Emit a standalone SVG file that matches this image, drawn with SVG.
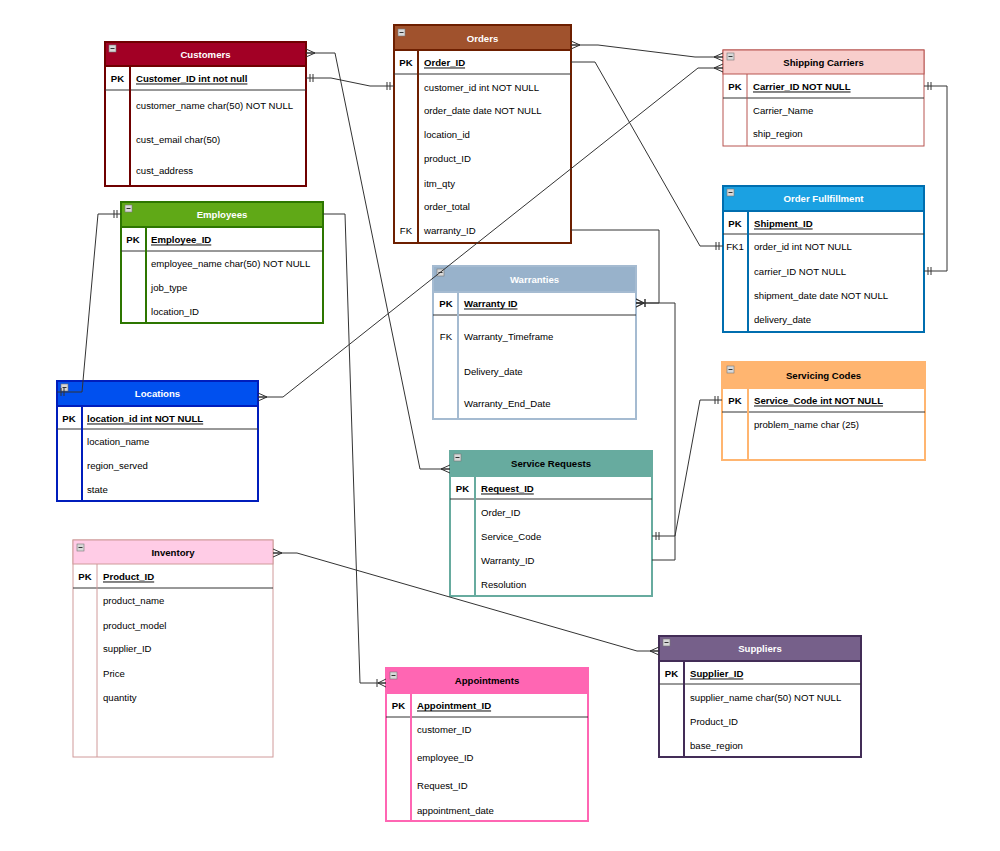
<svg xmlns="http://www.w3.org/2000/svg" width="1000" height="851" viewBox="0 0 1000 851">
<style>
text{font-family:"Liberation Sans",Arial,sans-serif;font-size:9.6px;dominant-baseline:central;fill:#000}
.h{font-weight:bold;text-anchor:middle}
.w{fill:#fff}
.pk{font-weight:bold;text-anchor:middle}
.k{font-weight:bold;text-decoration:underline}
.fk{text-anchor:middle}
.sep{stroke:#333;stroke-width:1}
.c{fill:none;stroke:#333;stroke-width:1}
.ic{fill:#d8d8d8;stroke:#777;stroke-width:0.6}
.icl{stroke:#333;stroke-width:1}
</style>
<defs>
<marker id="many" markerUnits="userSpaceOnUse" viewBox="-12 -6 14 12" refX="0" refY="0" markerWidth="14" markerHeight="12" orient="auto-start-reverse" overflow="visible">
<path d="M0,-4 L-9,0 L0,4 M-9,0 L0,0" fill="none" stroke="#333" stroke-width="1"/>
</marker>
<marker id="one" markerUnits="userSpaceOnUse" viewBox="-12 -6 14 12" refX="0" refY="0" markerWidth="14" markerHeight="12" orient="auto-start-reverse" overflow="visible">
<path d="M-4,-4 L-4,4 M-7,-4 L-7,4" fill="none" stroke="#333" stroke-width="1"/>
</marker>
<marker id="otm" markerUnits="userSpaceOnUse" viewBox="-12 -6 14 12" refX="0" refY="0" markerWidth="14" markerHeight="12" orient="auto-start-reverse" overflow="visible">
<path d="M0,-4 L-8,0 L0,4 M-8,0 L0,0 M-9,-4 L-9,4" fill="none" stroke="#333" stroke-width="1"/>
</marker>
</defs>
<rect width="1000" height="851" fill="#fff"/>

<g id="customers">
<rect x="105" y="42" width="201" height="144" fill="#fff" stroke="#6f0000" stroke-width="2"/>
<rect x="105" y="42" width="201" height="24" fill="#a20025" stroke="#6f0000" stroke-width="2"/>
<line class="sep" x1="105" y1="90" x2="306" y2="90"/>
<line x1="130" y1="66" x2="130" y2="186" stroke="#6f0000" stroke-width="2"/>
<rect class="ic" x="109" y="45" width="7" height="7"/><line class="icl" x1="110.5" y1="48.5" x2="114.5" y2="48.5"/>
<text class="h w" x="205.5" y="54">Customers</text>
<text class="pk" x="117.5" y="78">PK</text>
<text class="k" x="136" y="78">Customer_ID int not null</text>
<text x="136" y="105">customer_name char(50) NOT NULL</text>
<text x="136" y="139">cust_email char(50)</text>
<text x="136" y="170">cust_address</text>
</g>

<g id="orders">
<rect x="394" y="25" width="177" height="218" fill="#fff" stroke="#6d1f00" stroke-width="2"/>
<rect x="394" y="25" width="177" height="25" fill="#a0522d" stroke="#6d1f00" stroke-width="2"/>
<line class="sep" x1="394" y1="74" x2="571" y2="74"/>
<line x1="418" y1="50" x2="418" y2="243" stroke="#6d1f00" stroke-width="2"/>
<rect class="ic" x="398" y="29" width="7" height="7"/><line class="icl" x1="399.5" y1="32.5" x2="403.5" y2="32.5"/>
<text class="h w" x="482.5" y="38">Orders</text>
<text class="pk" x="406" y="62">PK</text>
<text class="k" x="424" y="62">Order_ID</text>
<text x="424" y="87">customer_id int NOT NULL</text>
<text x="424" y="110">order_date date NOT NULL</text>
<text x="424" y="134">location_id</text>
<text x="424" y="158">product_ID</text>
<text x="424" y="183">itm_qty</text>
<text x="424" y="206">order_total</text>
<text class="fk" x="406" y="230">FK</text>
<text x="424" y="230">warranty_ID</text>
</g>

<g id="shipping-carriers">
<rect x="723" y="50" width="201" height="96" fill="#fff" stroke="#b85450" stroke-width="1"/>
<rect x="723" y="50" width="201" height="24" fill="#f8cecc" stroke="#b85450" stroke-width="1"/>
<line class="sep" x1="723" y1="98" x2="924" y2="98"/>
<line x1="747" y1="74" x2="747" y2="146" stroke="#b85450" stroke-width="1"/>
<rect class="ic" x="727" y="53" width="7" height="7"/><line class="icl" x1="728.5" y1="56.5" x2="732.5" y2="56.5"/>
<text class="h" x="823.5" y="62">Shipping Carriers</text>
<text class="pk" x="735" y="86">PK</text>
<text class="k" x="753" y="86">Carrier_ID NOT NULL</text>
<text x="753" y="110">Carrier_Name</text>
<text x="753" y="133">ship_region</text>
</g>

<g id="order-fulfillment">
<rect x="723" y="186" width="201" height="146" fill="#fff" stroke="#006eaf" stroke-width="2"/>
<rect x="723" y="186" width="201" height="25" fill="#1ba1e2" stroke="#006eaf" stroke-width="2"/>
<line class="sep" x1="723" y1="234" x2="924" y2="234"/>
<line x1="748" y1="211" x2="748" y2="332" stroke="#006eaf" stroke-width="2"/>
<rect class="ic" x="727" y="189" width="7" height="7"/><line class="icl" x1="728.5" y1="192.5" x2="732.5" y2="192.5"/>
<text class="h w" x="823.5" y="198">Order Fullfillment</text>
<text class="pk" x="735" y="223">PK</text>
<text class="k" x="754" y="223">Shipment_ID</text>
<text class="fk" x="735" y="246">FK1</text>
<text x="754" y="246">order_id int NOT NULL</text>
<text x="754" y="271">carrier_ID NOT NULL</text>
<text x="754" y="295">shipment_date date NOT NULL</text>
<text x="754" y="319">delivery_date</text>
</g>

<g id="employees">
<rect x="121" y="202" width="202" height="121" fill="#fff" stroke="#2d7600" stroke-width="2"/>
<rect x="121" y="202" width="202" height="25" fill="#60a917" stroke="#2d7600" stroke-width="2"/>
<line class="sep" x1="121" y1="251" x2="323" y2="251"/>
<line x1="146" y1="227" x2="146" y2="323" stroke="#2d7600" stroke-width="2"/>
<rect class="ic" x="125" y="205" width="7" height="7"/><line class="icl" x1="126.5" y1="208.5" x2="130.5" y2="208.5"/>
<text class="h w" x="222" y="214">Employees</text>
<text class="pk" x="133" y="239">PK</text>
<text class="k" x="151" y="239">Employee_ID</text>
<text x="151" y="263">employee_name char(50) NOT NULL</text>
<text x="151" y="287">job_type</text>
<text x="151" y="311">location_ID</text>
</g>

<g id="locations">
<rect x="57" y="381" width="201" height="120" fill="#fff" stroke="#001dbc" stroke-width="2"/>
<rect x="57" y="381" width="201" height="25" fill="#0050ef" stroke="#001dbc" stroke-width="2"/>
<line class="sep" x1="57" y1="429" x2="258" y2="429"/>
<line x1="82" y1="406" x2="82" y2="501" stroke="#001dbc" stroke-width="2"/>
<rect class="ic" x="61" y="384" width="7" height="7"/><line class="icl" x1="62.5" y1="387.5" x2="66.5" y2="387.5"/>
<text class="h w" x="157.5" y="393">Locations</text>
<text class="pk" x="69" y="418">PK</text>
<text class="k" x="87" y="418">location_id int NOT NULL</text>
<text x="87" y="441">location_name</text>
<text x="87" y="465">region_served</text>
<text x="87" y="489">state</text>
</g>

<g id="warranties">
<rect x="433" y="266" width="203" height="153" fill="#fff" stroke="#a5bbd1" stroke-width="2"/>
<rect x="433" y="266" width="203" height="26" fill="#98b2cb" stroke="#a5bbd1" stroke-width="2"/>
<line class="sep" x1="433" y1="315" x2="636" y2="315"/>
<line x1="458" y1="292" x2="458" y2="419" stroke="#a5bbd1" stroke-width="2"/>
<rect class="ic" x="437" y="269" width="7" height="7"/><line class="icl" x1="438.5" y1="272.5" x2="442.5" y2="272.5"/>
<text class="h w" x="534.5" y="279">Warranties</text>
<text class="pk" x="446" y="303">PK</text>
<text class="k" x="464" y="303">Warranty ID</text>
<text class="fk" x="446" y="336">FK</text>
<text x="464" y="336">Warranty_Timeframe</text>
<text x="464" y="371">Delivery_date</text>
<text x="464" y="403">Warranty_End_Date</text>
</g>

<g id="service-requests">
<rect x="450" y="451" width="202" height="145" fill="#fff" stroke="#67ab9f" stroke-width="2"/>
<rect x="450" y="451" width="202" height="25" fill="#67ab9f" stroke="#67ab9f" stroke-width="2"/>
<line class="sep" x1="450" y1="499" x2="652" y2="499"/>
<line x1="475" y1="476" x2="475" y2="596" stroke="#67ab9f" stroke-width="2"/>
<rect class="ic" x="454" y="454" width="7" height="7"/><line class="icl" x1="455.5" y1="457.5" x2="459.5" y2="457.5"/>
<text class="h" x="551" y="463">Service Requests</text>
<text class="pk" x="462.5" y="488">PK</text>
<text class="k" x="481" y="488">Request_ID</text>
<text x="481" y="512">Order_ID</text>
<text x="481" y="536">Service_Code</text>
<text x="481" y="560">Warranty_ID</text>
<text x="481" y="584">Resolution</text>
</g>

<g id="servicing-codes">
<rect x="722" y="362" width="203" height="98" fill="#fff" stroke="#ffb570" stroke-width="2"/>
<rect x="722" y="362" width="203" height="26" fill="#ffb570" stroke="#ffb570" stroke-width="2"/>
<line class="sep" x1="722" y1="412" x2="925" y2="412"/>
<line x1="748" y1="388" x2="748" y2="460" stroke="#ffb570" stroke-width="2"/>
<rect class="ic" x="727" y="366" width="7" height="7"/><line class="icl" x1="728.5" y1="369.5" x2="732.5" y2="369.5"/>
<text class="h" x="823.5" y="375">Servicing Codes</text>
<text class="pk" x="735" y="400">PK</text>
<text class="k" x="754" y="400">Service_Code  int NOT NULL</text>
<text x="754" y="424">problem_name char (25)</text>
</g>

<g id="inventory">
<rect x="73" y="540" width="200" height="217" fill="#fff" stroke="#d09a9a" stroke-width="1"/>
<rect x="73" y="540" width="200" height="24" fill="#ffcce6" stroke="#d09a9a" stroke-width="1"/>
<line class="sep" x1="73" y1="588" x2="273" y2="588"/>
<line x1="97" y1="564" x2="97" y2="757" stroke="#d09a9a" stroke-width="1"/>
<rect class="ic" x="77" y="544" width="7" height="7"/><line class="icl" x1="78.5" y1="547.5" x2="82.5" y2="547.5"/>
<text class="h" x="173" y="552">Inventory</text>
<text class="pk" x="85" y="576">PK</text>
<text class="k" x="103" y="576">Product_ID</text>
<text x="103" y="600">product_name</text>
<text x="103" y="625">product_model</text>
<text x="103" y="648">supplier_ID</text>
<text x="103" y="673">Price</text>
<text x="103" y="697">quantity</text>
</g>

<g id="appointments">
<rect x="386" y="668" width="202" height="153" fill="#fff" stroke="#ff66b3" stroke-width="2"/>
<rect x="386" y="668" width="202" height="25" fill="#ff66b3" stroke="#ff66b3" stroke-width="2"/>
<line class="sep" x1="386" y1="717" x2="588" y2="717"/>
<line x1="411" y1="693" x2="411" y2="821" stroke="#ff66b3" stroke-width="2"/>
<rect class="ic" x="390" y="672" width="7" height="7"/><line class="icl" x1="391.5" y1="675.5" x2="395.5" y2="675.5"/>
<text class="h" x="487" y="680">Appointments</text>
<text class="pk" x="398.5" y="705">PK</text>
<text class="k" x="417" y="705">Appointment_ID </text>
<text x="417" y="729">customer_ID</text>
<text x="417" y="757">employee_ID</text>
<text x="417" y="785">Request_ID</text>
<text x="417" y="810">appointment_date</text>
</g>

<g id="suppliers">
<rect x="659" y="636" width="202" height="121" fill="#fff" stroke="#432d57" stroke-width="2"/>
<rect x="659" y="636" width="202" height="25" fill="#76608a" stroke="#432d57" stroke-width="2"/>
<line class="sep" x1="659" y1="684" x2="861" y2="684"/>
<line x1="684" y1="661" x2="684" y2="757" stroke="#432d57" stroke-width="2"/>
<rect class="ic" x="663" y="639" width="7" height="7"/><line class="icl" x1="664.5" y1="642.5" x2="668.5" y2="642.5"/>
<text class="h w" x="760" y="648">Suppliers</text>
<text class="pk" x="671.5" y="673">PK</text>
<text class="k" x="690" y="673">Supplier_ID</text>
<text x="690" y="697">supplier_name char(50) NOT NULL</text>
<text x="690" y="721">Product_ID</text>
<text x="690" y="745">base_region</text>
</g>

<g id="connectors">
<path class="c" d="M306,53 L335,53 L420,469 L450,469" marker-start="url(#many)" marker-end="url(#many)"/>
<path class="c" d="M306,78 L331,78 L370,86 L394,86" marker-start="url(#one)" marker-end="url(#one)"/>
<path class="c" d="M571,45 L598,45 L695,57 L723,57" marker-start="url(#many)" marker-end="url(#many)"/>
<path class="c" d="M258,397 L283,397 L698,68 L723,68" marker-start="url(#many)" marker-end="url(#many)"/>
<path class="c" d="M571,62 L595,62 L700,246 L723,246" marker-end="url(#one)"/>
<path class="c" d="M571,230 L659,230 L659,303 L636,303" marker-end="url(#otm)"/>
<path class="c" d="M652,560 L675,560 L675,303 L636,303" marker-end="url(#otm)"/>
<path class="c" d="M722,400 L700,400 L675,536 L652,536" marker-start="url(#one)" marker-end="url(#one)"/>
<path class="c" d="M924,86 L947,86 L947,271 L924,271" marker-start="url(#one)" marker-end="url(#one)"/>
<path class="c" d="M121,214 L98,214 L82,392 L57,392" marker-start="url(#one)" marker-end="url(#one)"/>
<path class="c" d="M323,214 L345,214 L360,683 L386,683" marker-end="url(#otm)"/>
<path class="c" d="M273,553 L297,553 L637,651 L659,651" marker-start="url(#many)" marker-end="url(#many)"/>
</g>
</svg>
